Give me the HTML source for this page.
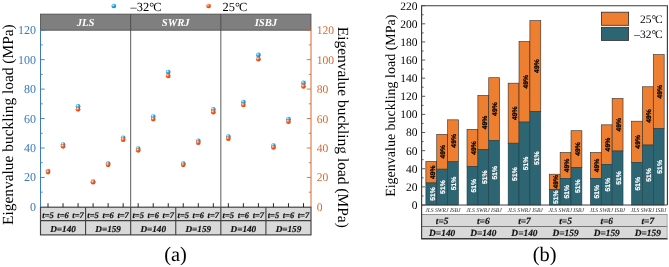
<!DOCTYPE html>
<html><head><meta charset="utf-8"><title>Eigenvalue buckling load</title>
<style>
html,body{margin:0;padding:0;background:#fff;}
body{width:669px;height:267px;overflow:hidden;font-family:"Liberation Serif",serif;}
svg{display:block;text-rendering:geometricPrecision;will-change:transform;}
</style></head><body>
<svg width="669" height="267" viewBox="0 0 669 267">
<rect x="0" y="0" width="669" height="267" fill="#ffffff"/>
<defs><radialGradient id="gb" cx="0.36" cy="0.32" r="0.7"><stop offset="0" stop-color="#ffffff"/><stop offset="0.22" stop-color="#7fd0f5"/><stop offset="0.55" stop-color="#1f9de0"/><stop offset="1" stop-color="#1a7fc4"/></radialGradient><radialGradient id="go" cx="0.36" cy="0.32" r="0.7"><stop offset="0" stop-color="#ffffff"/><stop offset="0.22" stop-color="#ff9a66"/><stop offset="0.55" stop-color="#f2541b"/><stop offset="1" stop-color="#d8430f"/></radialGradient></defs>
<rect x="40.5" y="14.1" width="270.5" height="16.1" fill="#7f7f7f" stroke="#4a4a4a" stroke-width="0.8"/>
<line x1="130.67" y1="14.1" x2="130.67" y2="206.9" stroke="#4a4a4a" stroke-width="0.9"/>
<line x1="220.83" y1="14.1" x2="220.83" y2="206.9" stroke="#4a4a4a" stroke-width="0.9"/>
<text x="85.58" y="25.9" font-family='"Liberation Serif", serif' font-size="10.7" font-weight="bold" font-style="italic" fill="#fff" text-anchor="middle">JLS</text>
<text x="175.75" y="25.9" font-family='"Liberation Serif", serif' font-size="10.7" font-weight="bold" font-style="italic" fill="#fff" text-anchor="middle">SWRJ</text>
<text x="265.92" y="25.9" font-family='"Liberation Serif", serif' font-size="10.7" font-weight="bold" font-style="italic" fill="#fff" text-anchor="middle">ISBJ</text>
<line x1="40.5" y1="30.2" x2="40.5" y2="206.9" stroke="#3b7abb" stroke-width="1"/>
<line x1="311.0" y1="30.2" x2="311.0" y2="206.9" stroke="#d8692c" stroke-width="1"/>
<text x="36" y="210.90" font-family='"Liberation Serif", serif' font-size="12" fill="#3b7abb" text-anchor="end">0</text>
<text x="316.7" y="210.90" font-family='"Liberation Serif", serif' font-size="11.6" fill="#d8692c" text-anchor="start">0</text>
<line x1="40.5" y1="192.18" x2="42.7" y2="192.18" stroke="#3b7abb" stroke-width="0.9"/>
<line x1="311.0" y1="192.18" x2="308.8" y2="192.18" stroke="#d8692c" stroke-width="0.9"/>
<line x1="40.5" y1="177.45" x2="44.7" y2="177.45" stroke="#3b7abb" stroke-width="0.9"/>
<line x1="311.0" y1="177.45" x2="306.8" y2="177.45" stroke="#d8692c" stroke-width="0.9"/>
<text x="36" y="181.45" font-family='"Liberation Serif", serif' font-size="12" fill="#3b7abb" text-anchor="end">20</text>
<text x="316.7" y="181.45" font-family='"Liberation Serif", serif' font-size="11.6" fill="#d8692c" text-anchor="start">20</text>
<line x1="40.5" y1="162.72" x2="42.7" y2="162.72" stroke="#3b7abb" stroke-width="0.9"/>
<line x1="311.0" y1="162.72" x2="308.8" y2="162.72" stroke="#d8692c" stroke-width="0.9"/>
<line x1="40.5" y1="148.00" x2="44.7" y2="148.00" stroke="#3b7abb" stroke-width="0.9"/>
<line x1="311.0" y1="148.00" x2="306.8" y2="148.00" stroke="#d8692c" stroke-width="0.9"/>
<text x="36" y="152.00" font-family='"Liberation Serif", serif' font-size="12" fill="#3b7abb" text-anchor="end">40</text>
<text x="316.7" y="152.00" font-family='"Liberation Serif", serif' font-size="11.6" fill="#d8692c" text-anchor="start">40</text>
<line x1="40.5" y1="133.28" x2="42.7" y2="133.28" stroke="#3b7abb" stroke-width="0.9"/>
<line x1="311.0" y1="133.28" x2="308.8" y2="133.28" stroke="#d8692c" stroke-width="0.9"/>
<line x1="40.5" y1="118.55" x2="44.7" y2="118.55" stroke="#3b7abb" stroke-width="0.9"/>
<line x1="311.0" y1="118.55" x2="306.8" y2="118.55" stroke="#d8692c" stroke-width="0.9"/>
<text x="36" y="122.55" font-family='"Liberation Serif", serif' font-size="12" fill="#3b7abb" text-anchor="end">60</text>
<text x="316.7" y="122.55" font-family='"Liberation Serif", serif' font-size="11.6" fill="#d8692c" text-anchor="start">60</text>
<line x1="40.5" y1="103.82" x2="42.7" y2="103.82" stroke="#3b7abb" stroke-width="0.9"/>
<line x1="311.0" y1="103.82" x2="308.8" y2="103.82" stroke="#d8692c" stroke-width="0.9"/>
<line x1="40.5" y1="89.10" x2="44.7" y2="89.10" stroke="#3b7abb" stroke-width="0.9"/>
<line x1="311.0" y1="89.10" x2="306.8" y2="89.10" stroke="#d8692c" stroke-width="0.9"/>
<text x="36" y="93.10" font-family='"Liberation Serif", serif' font-size="12" fill="#3b7abb" text-anchor="end">80</text>
<text x="316.7" y="93.10" font-family='"Liberation Serif", serif' font-size="11.6" fill="#d8692c" text-anchor="start">80</text>
<line x1="40.5" y1="74.38" x2="42.7" y2="74.38" stroke="#3b7abb" stroke-width="0.9"/>
<line x1="311.0" y1="74.38" x2="308.8" y2="74.38" stroke="#d8692c" stroke-width="0.9"/>
<line x1="40.5" y1="59.65" x2="44.7" y2="59.65" stroke="#3b7abb" stroke-width="0.9"/>
<line x1="311.0" y1="59.65" x2="306.8" y2="59.65" stroke="#d8692c" stroke-width="0.9"/>
<text x="36" y="63.65" font-family='"Liberation Serif", serif' font-size="12" fill="#3b7abb" text-anchor="end">100</text>
<text x="316.7" y="63.65" font-family='"Liberation Serif", serif' font-size="11.6" fill="#d8692c" text-anchor="start">100</text>
<line x1="40.5" y1="44.92" x2="42.7" y2="44.92" stroke="#3b7abb" stroke-width="0.9"/>
<line x1="311.0" y1="44.92" x2="308.8" y2="44.92" stroke="#d8692c" stroke-width="0.9"/>
<line x1="40.5" y1="30.20" x2="44.7" y2="30.20" stroke="#3b7abb" stroke-width="0.9"/>
<line x1="311.0" y1="30.20" x2="306.8" y2="30.20" stroke="#d8692c" stroke-width="0.9"/>
<text x="36" y="34.20" font-family='"Liberation Serif", serif' font-size="12" fill="#3b7abb" text-anchor="end">120</text>
<text x="316.7" y="34.20" font-family='"Liberation Serif", serif' font-size="11.6" fill="#d8692c" text-anchor="start">120</text>
<text transform="translate(12.9,124.6) rotate(-90)" font-family='"Liberation Serif", serif' font-size="15.42" fill="#000" text-anchor="middle">Eigenvalue buckling load (MPa)</text>
<text transform="translate(337.7,127.25) rotate(90)" font-family='"Liberation Serif", serif' font-size="15.45" fill="#000" text-anchor="middle">Eigenvalue buckling load (MPa)</text>
<rect x="40.5" y="207.2" width="270.5" height="27.700000000000017" fill="#d9d9d9" stroke="#3f3f3f" stroke-width="1.15"/>
<line x1="40.5" y1="220.6" x2="311.0" y2="220.6" stroke="#3f3f3f" stroke-width="1.1"/>
<line x1="85.58" y1="207.2" x2="85.58" y2="234.9" stroke="#3f3f3f" stroke-width="1.1"/>
<line x1="130.67" y1="207.2" x2="130.67" y2="234.9" stroke="#3f3f3f" stroke-width="1.1"/>
<line x1="175.75" y1="207.2" x2="175.75" y2="234.9" stroke="#3f3f3f" stroke-width="1.1"/>
<line x1="220.83" y1="207.2" x2="220.83" y2="234.9" stroke="#3f3f3f" stroke-width="1.1"/>
<line x1="265.92" y1="207.2" x2="265.92" y2="234.9" stroke="#3f3f3f" stroke-width="1.1"/>
<text x="63.04" y="231.8" font-family='"Liberation Serif", serif' font-size="9.2" font-weight="bold" font-style="italic" fill="#111" stroke="#111" stroke-width="0.18" text-anchor="middle">D=140</text>
<line x1="48.01" y1="203.2" x2="48.01" y2="207.2" stroke="#262626" stroke-width="1.0"/>
<text x="48.01" y="217.8" font-family='"Liberation Serif", serif' font-size="8.5" font-weight="bold" font-style="italic" fill="#111" stroke="#111" stroke-width="0.18" text-anchor="middle">t=5</text>
<line x1="63.04" y1="203.2" x2="63.04" y2="207.2" stroke="#262626" stroke-width="1.0"/>
<text x="63.04" y="217.8" font-family='"Liberation Serif", serif' font-size="8.5" font-weight="bold" font-style="italic" fill="#111" stroke="#111" stroke-width="0.18" text-anchor="middle">t=6</text>
<line x1="78.07" y1="203.2" x2="78.07" y2="207.2" stroke="#262626" stroke-width="1.0"/>
<text x="78.07" y="217.8" font-family='"Liberation Serif", serif' font-size="8.5" font-weight="bold" font-style="italic" fill="#111" stroke="#111" stroke-width="0.18" text-anchor="middle">t=7</text>
<text x="108.12" y="231.8" font-family='"Liberation Serif", serif' font-size="9.2" font-weight="bold" font-style="italic" fill="#111" stroke="#111" stroke-width="0.18" text-anchor="middle">D=159</text>
<line x1="93.10" y1="203.2" x2="93.10" y2="207.2" stroke="#262626" stroke-width="1.0"/>
<text x="93.10" y="217.8" font-family='"Liberation Serif", serif' font-size="8.5" font-weight="bold" font-style="italic" fill="#111" stroke="#111" stroke-width="0.18" text-anchor="middle">t=5</text>
<line x1="108.13" y1="203.2" x2="108.13" y2="207.2" stroke="#262626" stroke-width="1.0"/>
<text x="108.13" y="217.8" font-family='"Liberation Serif", serif' font-size="8.5" font-weight="bold" font-style="italic" fill="#111" stroke="#111" stroke-width="0.18" text-anchor="middle">t=6</text>
<line x1="123.15" y1="203.2" x2="123.15" y2="207.2" stroke="#262626" stroke-width="1.0"/>
<text x="123.15" y="217.8" font-family='"Liberation Serif", serif' font-size="8.5" font-weight="bold" font-style="italic" fill="#111" stroke="#111" stroke-width="0.18" text-anchor="middle">t=7</text>
<text x="153.21" y="231.8" font-family='"Liberation Serif", serif' font-size="9.2" font-weight="bold" font-style="italic" fill="#111" stroke="#111" stroke-width="0.18" text-anchor="middle">D=140</text>
<line x1="138.18" y1="203.2" x2="138.18" y2="207.2" stroke="#262626" stroke-width="1.0"/>
<text x="138.18" y="217.8" font-family='"Liberation Serif", serif' font-size="8.5" font-weight="bold" font-style="italic" fill="#111" stroke="#111" stroke-width="0.18" text-anchor="middle">t=5</text>
<line x1="153.21" y1="203.2" x2="153.21" y2="207.2" stroke="#262626" stroke-width="1.0"/>
<text x="153.21" y="217.8" font-family='"Liberation Serif", serif' font-size="8.5" font-weight="bold" font-style="italic" fill="#111" stroke="#111" stroke-width="0.18" text-anchor="middle">t=6</text>
<line x1="168.24" y1="203.2" x2="168.24" y2="207.2" stroke="#262626" stroke-width="1.0"/>
<text x="168.24" y="217.8" font-family='"Liberation Serif", serif' font-size="8.5" font-weight="bold" font-style="italic" fill="#111" stroke="#111" stroke-width="0.18" text-anchor="middle">t=7</text>
<text x="198.29" y="231.8" font-family='"Liberation Serif", serif' font-size="9.2" font-weight="bold" font-style="italic" fill="#111" stroke="#111" stroke-width="0.18" text-anchor="middle">D=159</text>
<line x1="183.26" y1="203.2" x2="183.26" y2="207.2" stroke="#262626" stroke-width="1.0"/>
<text x="183.26" y="217.8" font-family='"Liberation Serif", serif' font-size="8.5" font-weight="bold" font-style="italic" fill="#111" stroke="#111" stroke-width="0.18" text-anchor="middle">t=5</text>
<line x1="198.29" y1="203.2" x2="198.29" y2="207.2" stroke="#262626" stroke-width="1.0"/>
<text x="198.29" y="217.8" font-family='"Liberation Serif", serif' font-size="8.5" font-weight="bold" font-style="italic" fill="#111" stroke="#111" stroke-width="0.18" text-anchor="middle">t=6</text>
<line x1="213.32" y1="203.2" x2="213.32" y2="207.2" stroke="#262626" stroke-width="1.0"/>
<text x="213.32" y="217.8" font-family='"Liberation Serif", serif' font-size="8.5" font-weight="bold" font-style="italic" fill="#111" stroke="#111" stroke-width="0.18" text-anchor="middle">t=7</text>
<text x="243.38" y="231.8" font-family='"Liberation Serif", serif' font-size="9.2" font-weight="bold" font-style="italic" fill="#111" stroke="#111" stroke-width="0.18" text-anchor="middle">D=140</text>
<line x1="228.35" y1="203.2" x2="228.35" y2="207.2" stroke="#262626" stroke-width="1.0"/>
<text x="228.35" y="217.8" font-family='"Liberation Serif", serif' font-size="8.5" font-weight="bold" font-style="italic" fill="#111" stroke="#111" stroke-width="0.18" text-anchor="middle">t=5</text>
<line x1="243.38" y1="203.2" x2="243.38" y2="207.2" stroke="#262626" stroke-width="1.0"/>
<text x="243.38" y="217.8" font-family='"Liberation Serif", serif' font-size="8.5" font-weight="bold" font-style="italic" fill="#111" stroke="#111" stroke-width="0.18" text-anchor="middle">t=6</text>
<line x1="258.40" y1="203.2" x2="258.40" y2="207.2" stroke="#262626" stroke-width="1.0"/>
<text x="258.40" y="217.8" font-family='"Liberation Serif", serif' font-size="8.5" font-weight="bold" font-style="italic" fill="#111" stroke="#111" stroke-width="0.18" text-anchor="middle">t=7</text>
<text x="288.46" y="231.8" font-family='"Liberation Serif", serif' font-size="9.2" font-weight="bold" font-style="italic" fill="#111" stroke="#111" stroke-width="0.18" text-anchor="middle">D=159</text>
<line x1="273.43" y1="203.2" x2="273.43" y2="207.2" stroke="#262626" stroke-width="1.0"/>
<text x="273.43" y="217.8" font-family='"Liberation Serif", serif' font-size="8.5" font-weight="bold" font-style="italic" fill="#111" stroke="#111" stroke-width="0.18" text-anchor="middle">t=5</text>
<line x1="288.46" y1="203.2" x2="288.46" y2="207.2" stroke="#262626" stroke-width="1.0"/>
<text x="288.46" y="217.8" font-family='"Liberation Serif", serif' font-size="8.5" font-weight="bold" font-style="italic" fill="#111" stroke="#111" stroke-width="0.18" text-anchor="middle">t=6</text>
<line x1="303.49" y1="203.2" x2="303.49" y2="207.2" stroke="#262626" stroke-width="1.0"/>
<text x="303.49" y="217.8" font-family='"Liberation Serif", serif' font-size="8.5" font-weight="bold" font-style="italic" fill="#111" stroke="#111" stroke-width="0.18" text-anchor="middle">t=7</text>
<circle cx="48.01" cy="171.05" r="2.35" fill="url(#gb)"/>
<circle cx="48.01" cy="172.07" r="2.35" fill="url(#go)"/>
<circle cx="63.04" cy="144.54" r="2.35" fill="url(#gb)"/>
<circle cx="63.04" cy="146.30" r="2.35" fill="url(#go)"/>
<circle cx="78.07" cy="106.46" r="2.35" fill="url(#gb)"/>
<circle cx="78.07" cy="109.29" r="2.35" fill="url(#go)"/>
<circle cx="93.10" cy="181.51" r="2.35" fill="url(#gb)"/>
<circle cx="93.10" cy="182.23" r="2.35" fill="url(#go)"/>
<circle cx="108.13" cy="163.59" r="2.35" fill="url(#gb)"/>
<circle cx="108.13" cy="164.81" r="2.35" fill="url(#go)"/>
<circle cx="123.15" cy="137.82" r="2.35" fill="url(#gb)"/>
<circle cx="123.15" cy="139.77" r="2.35" fill="url(#go)"/>
<circle cx="138.18" cy="148.65" r="2.35" fill="url(#gb)"/>
<circle cx="138.18" cy="150.29" r="2.35" fill="url(#go)"/>
<circle cx="153.21" cy="116.54" r="2.35" fill="url(#gb)"/>
<circle cx="153.21" cy="119.09" r="2.35" fill="url(#go)"/>
<circle cx="168.24" cy="72.11" r="2.35" fill="url(#gb)"/>
<circle cx="168.24" cy="75.91" r="2.35" fill="url(#go)"/>
<circle cx="183.26" cy="163.59" r="2.35" fill="url(#gb)"/>
<circle cx="183.26" cy="164.81" r="2.35" fill="url(#go)"/>
<circle cx="198.29" cy="140.81" r="2.35" fill="url(#gb)"/>
<circle cx="198.29" cy="142.67" r="2.35" fill="url(#go)"/>
<circle cx="213.32" cy="109.45" r="2.35" fill="url(#gb)"/>
<circle cx="213.32" cy="112.19" r="2.35" fill="url(#go)"/>
<circle cx="228.35" cy="136.70" r="2.35" fill="url(#gb)"/>
<circle cx="228.35" cy="138.68" r="2.35" fill="url(#go)"/>
<circle cx="243.38" cy="101.98" r="2.35" fill="url(#gb)"/>
<circle cx="243.38" cy="104.94" r="2.35" fill="url(#go)"/>
<circle cx="258.40" cy="54.93" r="2.35" fill="url(#gb)"/>
<circle cx="258.40" cy="59.21" r="2.35" fill="url(#go)"/>
<circle cx="273.43" cy="145.66" r="2.35" fill="url(#gb)"/>
<circle cx="273.43" cy="147.39" r="2.35" fill="url(#go)"/>
<circle cx="288.46" cy="119.15" r="2.35" fill="url(#gb)"/>
<circle cx="288.46" cy="121.63" r="2.35" fill="url(#go)"/>
<circle cx="303.49" cy="82.94" r="2.35" fill="url(#gb)"/>
<circle cx="303.49" cy="86.43" r="2.35" fill="url(#go)"/>
<circle cx="113.8" cy="6" r="2.35" fill="url(#gb)"/>
<text x="130.6" y="10.5" font-family='"Liberation Serif", serif' font-size="12.4" fill="#000">–32°<tspan dx="-1.0">C</tspan></text>
<circle cx="208.6" cy="6" r="2.35" fill="url(#go)"/>
<text x="222.6" y="10.5" font-family='"Liberation Serif", serif' font-size="12.4" fill="#000">25°<tspan dx="-1.0">C</tspan></text>
<text x="175.5" y="260.6" font-family='"Liberation Serif", serif' font-size="20.4" fill="#000" text-anchor="middle">(a)</text>
<rect x="421.6" y="214.5" width="245.79999999999995" height="24.0" fill="#d9d9d9"/>
<line x1="421.6" y1="214.5" x2="667.4" y2="214.5" stroke="#8a8a8a" stroke-width="0.9"/>
<line x1="421.6" y1="226.5" x2="667.4" y2="226.5" stroke="#6a6a6a" stroke-width="0.9"/>
<line x1="421.1" y1="238.7" x2="667.6" y2="238.7" stroke="#3a3a3a" stroke-width="1.4"/>
<rect x="425.88" y="161.52" width="10.88" height="21.43" fill="#ee7f31" stroke="#2b2b2b" stroke-width="0.6"/>
<rect x="425.88" y="182.95" width="10.88" height="22.05" fill="#2e6573" stroke="#1f3a42" stroke-width="0.55"/>
<text transform="translate(434.56,172.23) rotate(-90)" font-family='"Liberation Sans", sans-serif' font-size="6.8" font-weight="bold" fill="#000" stroke="#000" stroke-width="0.25" text-anchor="middle">49%</text>
<text transform="translate(434.56,193.97) rotate(-90)" font-family='"Liberation Sans", sans-serif' font-size="6.8" font-weight="bold" fill="#fff" stroke="#fff" stroke-width="0.2" text-anchor="middle">51%</text>
<rect x="436.75" y="134.34" width="10.88" height="34.83" fill="#ee7f31" stroke="#2b2b2b" stroke-width="0.6"/>
<rect x="436.75" y="169.16" width="10.88" height="35.84" fill="#2e6573" stroke="#1f3a42" stroke-width="0.55"/>
<text transform="translate(445.44,151.75) rotate(-90)" font-family='"Liberation Sans", sans-serif' font-size="6.8" font-weight="bold" fill="#000" stroke="#000" stroke-width="0.25" text-anchor="middle">49%</text>
<text transform="translate(445.44,187.08) rotate(-90)" font-family='"Liberation Sans", sans-serif' font-size="6.8" font-weight="bold" fill="#fff" stroke="#fff" stroke-width="0.2" text-anchor="middle">51%</text>
<rect x="447.63" y="119.84" width="10.88" height="41.97" fill="#ee7f31" stroke="#2b2b2b" stroke-width="0.6"/>
<rect x="447.63" y="161.81" width="10.88" height="43.19" fill="#2e6573" stroke="#1f3a42" stroke-width="0.55"/>
<text transform="translate(456.32,140.83) rotate(-90)" font-family='"Liberation Sans", sans-serif' font-size="6.8" font-weight="bold" fill="#000" stroke="#000" stroke-width="0.25" text-anchor="middle">49%</text>
<text transform="translate(456.32,183.41) rotate(-90)" font-family='"Liberation Sans", sans-serif' font-size="6.8" font-weight="bold" fill="#fff" stroke="#fff" stroke-width="0.2" text-anchor="middle">51%</text>
<text x="442.89" y="211.6" font-family='"Liberation Serif", serif' font-size="5.65" font-style="italic" fill="#2a2a2a" text-anchor="middle">JLS SWRJ ISBJ</text>
<text x="442.19" y="224.2" font-family='"Liberation Serif", serif' font-size="9.4" font-weight="bold" font-style="italic" fill="#111" stroke="#111" stroke-width="0.18" text-anchor="middle">t=5</text>
<text x="442.19" y="235.8" font-family='"Liberation Serif", serif' font-size="9.4" font-weight="bold" font-style="italic" fill="#111" stroke="#111" stroke-width="0.18" text-anchor="middle">D=140</text>
<rect x="467.00" y="129.36" width="10.88" height="37.28" fill="#ee7f31" stroke="#2b2b2b" stroke-width="0.6"/>
<rect x="467.00" y="166.64" width="10.88" height="38.36" fill="#2e6573" stroke="#1f3a42" stroke-width="0.55"/>
<text transform="translate(475.69,148.00) rotate(-90)" font-family='"Liberation Sans", sans-serif' font-size="6.8" font-weight="bold" fill="#000" stroke="#000" stroke-width="0.25" text-anchor="middle">49%</text>
<text transform="translate(475.69,185.82) rotate(-90)" font-family='"Liberation Sans", sans-serif' font-size="6.8" font-weight="bold" fill="#fff" stroke="#fff" stroke-width="0.2" text-anchor="middle">51%</text>
<rect x="477.88" y="95.38" width="10.88" height="54.02" fill="#ee7f31" stroke="#2b2b2b" stroke-width="0.6"/>
<rect x="477.88" y="149.41" width="10.88" height="55.59" fill="#2e6573" stroke="#1f3a42" stroke-width="0.55"/>
<text transform="translate(486.57,122.40) rotate(-90)" font-family='"Liberation Sans", sans-serif' font-size="6.8" font-weight="bold" fill="#000" stroke="#000" stroke-width="0.25" text-anchor="middle">49%</text>
<text transform="translate(486.57,177.20) rotate(-90)" font-family='"Liberation Sans", sans-serif' font-size="6.8" font-weight="bold" fill="#fff" stroke="#fff" stroke-width="0.2" text-anchor="middle">51%</text>
<rect x="488.76" y="77.72" width="10.88" height="62.73" fill="#ee7f31" stroke="#2b2b2b" stroke-width="0.6"/>
<rect x="488.76" y="140.45" width="10.88" height="64.55" fill="#2e6573" stroke="#1f3a42" stroke-width="0.55"/>
<text transform="translate(497.45,109.09) rotate(-90)" font-family='"Liberation Sans", sans-serif' font-size="6.8" font-weight="bold" fill="#000" stroke="#000" stroke-width="0.25" text-anchor="middle">49%</text>
<text transform="translate(497.45,172.73) rotate(-90)" font-family='"Liberation Sans", sans-serif' font-size="6.8" font-weight="bold" fill="#fff" stroke="#fff" stroke-width="0.2" text-anchor="middle">51%</text>
<text x="484.02" y="211.6" font-family='"Liberation Serif", serif' font-size="5.65" font-style="italic" fill="#2a2a2a" text-anchor="middle">JLS SWRJ ISBJ</text>
<text x="483.32" y="224.2" font-family='"Liberation Serif", serif' font-size="9.4" font-weight="bold" font-style="italic" fill="#111" stroke="#111" stroke-width="0.18" text-anchor="middle">t=6</text>
<text x="483.32" y="235.8" font-family='"Liberation Serif", serif' font-size="9.4" font-weight="bold" font-style="italic" fill="#111" stroke="#111" stroke-width="0.18" text-anchor="middle">D=140</text>
<rect x="508.14" y="83.16" width="10.88" height="60.05" fill="#ee7f31" stroke="#2b2b2b" stroke-width="0.6"/>
<rect x="508.14" y="143.21" width="10.88" height="61.79" fill="#2e6573" stroke="#1f3a42" stroke-width="0.55"/>
<text transform="translate(516.83,113.18) rotate(-90)" font-family='"Liberation Sans", sans-serif' font-size="6.8" font-weight="bold" fill="#000" stroke="#000" stroke-width="0.25" text-anchor="middle">49%</text>
<text transform="translate(516.83,174.10) rotate(-90)" font-family='"Liberation Sans", sans-serif' font-size="6.8" font-weight="bold" fill="#fff" stroke="#fff" stroke-width="0.2" text-anchor="middle">51%</text>
<rect x="519.02" y="41.48" width="10.88" height="80.59" fill="#ee7f31" stroke="#2b2b2b" stroke-width="0.6"/>
<rect x="519.02" y="122.07" width="10.88" height="82.93" fill="#2e6573" stroke="#1f3a42" stroke-width="0.55"/>
<text transform="translate(527.71,81.78) rotate(-90)" font-family='"Liberation Sans", sans-serif' font-size="6.8" font-weight="bold" fill="#000" stroke="#000" stroke-width="0.25" text-anchor="middle">49%</text>
<text transform="translate(527.71,163.54) rotate(-90)" font-family='"Liberation Sans", sans-serif' font-size="6.8" font-weight="bold" fill="#fff" stroke="#fff" stroke-width="0.2" text-anchor="middle">51%</text>
<rect x="529.90" y="20.65" width="10.88" height="90.86" fill="#ee7f31" stroke="#2b2b2b" stroke-width="0.6"/>
<rect x="529.90" y="111.51" width="10.88" height="93.49" fill="#2e6573" stroke="#1f3a42" stroke-width="0.55"/>
<text transform="translate(538.59,66.08) rotate(-90)" font-family='"Liberation Sans", sans-serif' font-size="6.8" font-weight="bold" fill="#000" stroke="#000" stroke-width="0.25" text-anchor="middle">49%</text>
<text transform="translate(538.59,158.25) rotate(-90)" font-family='"Liberation Sans", sans-serif' font-size="6.8" font-weight="bold" fill="#fff" stroke="#fff" stroke-width="0.2" text-anchor="middle">51%</text>
<text x="525.16" y="211.6" font-family='"Liberation Serif", serif' font-size="5.65" font-style="italic" fill="#2a2a2a" text-anchor="middle">JLS SWRJ ISBJ</text>
<text x="524.46" y="224.2" font-family='"Liberation Serif", serif' font-size="9.4" font-weight="bold" font-style="italic" fill="#111" stroke="#111" stroke-width="0.18" text-anchor="middle">t=7</text>
<text x="524.46" y="235.8" font-family='"Liberation Serif", serif' font-size="9.4" font-weight="bold" font-style="italic" fill="#111" stroke="#111" stroke-width="0.18" text-anchor="middle">D=140</text>
<rect x="549.26" y="174.20" width="10.88" height="15.18" fill="#ee7f31" stroke="#2b2b2b" stroke-width="0.6"/>
<rect x="549.26" y="189.38" width="10.88" height="15.62" fill="#2e6573" stroke="#1f3a42" stroke-width="0.55"/>
<text transform="translate(557.96,181.79) rotate(-90)" font-family='"Liberation Sans", sans-serif' font-size="6.8" font-weight="bold" fill="#000" stroke="#000" stroke-width="0.25" text-anchor="middle">49%</text>
<text transform="translate(557.96,197.19) rotate(-90)" font-family='"Liberation Sans", sans-serif' font-size="6.8" font-weight="bold" fill="#fff" stroke="#fff" stroke-width="0.2" text-anchor="middle">51%</text>
<rect x="560.14" y="152.46" width="10.88" height="25.90" fill="#ee7f31" stroke="#2b2b2b" stroke-width="0.6"/>
<rect x="560.14" y="178.35" width="10.88" height="26.65" fill="#2e6573" stroke="#1f3a42" stroke-width="0.55"/>
<text transform="translate(568.84,165.41) rotate(-90)" font-family='"Liberation Sans", sans-serif' font-size="6.8" font-weight="bold" fill="#000" stroke="#000" stroke-width="0.25" text-anchor="middle">49%</text>
<text transform="translate(568.84,191.68) rotate(-90)" font-family='"Liberation Sans", sans-serif' font-size="6.8" font-weight="bold" fill="#fff" stroke="#fff" stroke-width="0.2" text-anchor="middle">51%</text>
<rect x="571.02" y="130.72" width="10.88" height="36.61" fill="#ee7f31" stroke="#2b2b2b" stroke-width="0.6"/>
<rect x="571.02" y="167.33" width="10.88" height="37.67" fill="#2e6573" stroke="#1f3a42" stroke-width="0.55"/>
<text transform="translate(579.72,149.02) rotate(-90)" font-family='"Liberation Sans", sans-serif' font-size="6.8" font-weight="bold" fill="#000" stroke="#000" stroke-width="0.25" text-anchor="middle">49%</text>
<text transform="translate(579.72,186.16) rotate(-90)" font-family='"Liberation Sans", sans-serif' font-size="6.8" font-weight="bold" fill="#fff" stroke="#fff" stroke-width="0.2" text-anchor="middle">51%</text>
<text x="566.29" y="211.6" font-family='"Liberation Serif", serif' font-size="5.65" font-style="italic" fill="#2a2a2a" text-anchor="middle">JLS SWRJ ISBJ</text>
<text x="565.59" y="224.2" font-family='"Liberation Serif", serif' font-size="9.4" font-weight="bold" font-style="italic" fill="#111" stroke="#111" stroke-width="0.18" text-anchor="middle">t=5</text>
<text x="565.59" y="235.8" font-family='"Liberation Serif", serif' font-size="9.4" font-weight="bold" font-style="italic" fill="#111" stroke="#111" stroke-width="0.18" text-anchor="middle">D=159</text>
<rect x="590.39" y="152.46" width="10.88" height="25.90" fill="#ee7f31" stroke="#2b2b2b" stroke-width="0.6"/>
<rect x="590.39" y="178.35" width="10.88" height="26.65" fill="#2e6573" stroke="#1f3a42" stroke-width="0.55"/>
<text transform="translate(599.09,165.41) rotate(-90)" font-family='"Liberation Sans", sans-serif' font-size="6.8" font-weight="bold" fill="#000" stroke="#000" stroke-width="0.25" text-anchor="middle">49%</text>
<text transform="translate(599.09,191.68) rotate(-90)" font-family='"Liberation Sans", sans-serif' font-size="6.8" font-weight="bold" fill="#fff" stroke="#fff" stroke-width="0.2" text-anchor="middle">51%</text>
<rect x="601.27" y="124.83" width="10.88" height="39.51" fill="#ee7f31" stroke="#2b2b2b" stroke-width="0.6"/>
<rect x="601.27" y="164.34" width="10.88" height="40.66" fill="#2e6573" stroke="#1f3a42" stroke-width="0.55"/>
<text transform="translate(609.97,144.58) rotate(-90)" font-family='"Liberation Sans", sans-serif' font-size="6.8" font-weight="bold" fill="#000" stroke="#000" stroke-width="0.25" text-anchor="middle">49%</text>
<text transform="translate(609.97,184.67) rotate(-90)" font-family='"Liberation Sans", sans-serif' font-size="6.8" font-weight="bold" fill="#fff" stroke="#fff" stroke-width="0.2" text-anchor="middle">51%</text>
<rect x="612.15" y="98.56" width="10.88" height="52.46" fill="#ee7f31" stroke="#2b2b2b" stroke-width="0.6"/>
<rect x="612.15" y="151.02" width="10.88" height="53.98" fill="#2e6573" stroke="#1f3a42" stroke-width="0.55"/>
<text transform="translate(620.85,124.79) rotate(-90)" font-family='"Liberation Sans", sans-serif' font-size="6.8" font-weight="bold" fill="#000" stroke="#000" stroke-width="0.25" text-anchor="middle">49%</text>
<text transform="translate(620.85,178.01) rotate(-90)" font-family='"Liberation Sans", sans-serif' font-size="6.8" font-weight="bold" fill="#fff" stroke="#fff" stroke-width="0.2" text-anchor="middle">51%</text>
<text x="607.42" y="211.6" font-family='"Liberation Serif", serif' font-size="5.65" font-style="italic" fill="#2a2a2a" text-anchor="middle">JLS SWRJ ISBJ</text>
<text x="606.72" y="224.2" font-family='"Liberation Serif", serif' font-size="9.4" font-weight="bold" font-style="italic" fill="#111" stroke="#111" stroke-width="0.18" text-anchor="middle">t=6</text>
<text x="606.72" y="235.8" font-family='"Liberation Serif", serif' font-size="9.4" font-weight="bold" font-style="italic" fill="#111" stroke="#111" stroke-width="0.18" text-anchor="middle">D=159</text>
<rect x="631.52" y="121.20" width="10.88" height="41.30" fill="#ee7f31" stroke="#2b2b2b" stroke-width="0.6"/>
<rect x="631.52" y="162.50" width="10.88" height="42.50" fill="#2e6573" stroke="#1f3a42" stroke-width="0.55"/>
<text transform="translate(640.22,141.85) rotate(-90)" font-family='"Liberation Sans", sans-serif' font-size="6.8" font-weight="bold" fill="#000" stroke="#000" stroke-width="0.25" text-anchor="middle">49%</text>
<text transform="translate(640.22,183.75) rotate(-90)" font-family='"Liberation Sans", sans-serif' font-size="6.8" font-weight="bold" fill="#fff" stroke="#fff" stroke-width="0.2" text-anchor="middle">51%</text>
<rect x="642.40" y="86.78" width="10.88" height="58.27" fill="#ee7f31" stroke="#2b2b2b" stroke-width="0.6"/>
<rect x="642.40" y="145.04" width="10.88" height="59.96" fill="#2e6573" stroke="#1f3a42" stroke-width="0.55"/>
<text transform="translate(651.10,115.91) rotate(-90)" font-family='"Liberation Sans", sans-serif' font-size="6.8" font-weight="bold" fill="#000" stroke="#000" stroke-width="0.25" text-anchor="middle">49%</text>
<text transform="translate(651.10,175.02) rotate(-90)" font-family='"Liberation Sans", sans-serif' font-size="6.8" font-weight="bold" fill="#fff" stroke="#fff" stroke-width="0.2" text-anchor="middle">51%</text>
<rect x="653.28" y="54.62" width="10.88" height="74.12" fill="#ee7f31" stroke="#2b2b2b" stroke-width="0.6"/>
<rect x="653.28" y="128.73" width="10.88" height="76.27" fill="#2e6573" stroke="#1f3a42" stroke-width="0.55"/>
<text transform="translate(661.98,91.68) rotate(-90)" font-family='"Liberation Sans", sans-serif' font-size="6.8" font-weight="bold" fill="#000" stroke="#000" stroke-width="0.25" text-anchor="middle">49%</text>
<text transform="translate(661.98,166.87) rotate(-90)" font-family='"Liberation Sans", sans-serif' font-size="6.8" font-weight="bold" fill="#fff" stroke="#fff" stroke-width="0.2" text-anchor="middle">51%</text>
<text x="648.55" y="211.6" font-family='"Liberation Serif", serif' font-size="5.65" font-style="italic" fill="#2a2a2a" text-anchor="middle">JLS SWRJ ISBJ</text>
<text x="647.85" y="224.2" font-family='"Liberation Serif", serif' font-size="9.4" font-weight="bold" font-style="italic" fill="#111" stroke="#111" stroke-width="0.18" text-anchor="middle">t=7</text>
<text x="647.85" y="235.8" font-family='"Liberation Serif", serif' font-size="9.4" font-weight="bold" font-style="italic" fill="#111" stroke="#111" stroke-width="0.18" text-anchor="middle">D=159</text>
<polyline points="421.6,239.1 421.6,5.7 667.4,5.7 667.4,205.0" fill="none" stroke="#3c3c3c" stroke-width="1.15"/>
<line x1="667.1" y1="214.5" x2="667.1" y2="238.5" stroke="#a8a8a8" stroke-width="0.9"/>
<line x1="421.6" y1="205.0" x2="667.4" y2="205.0" stroke="#3c3c3c" stroke-width="1.1"/>
<line x1="421.6" y1="205.00" x2="425.20000000000005" y2="205.00" stroke="#4a4a4a" stroke-width="0.9"/>
<text x="417.4" y="208.95" font-family='"Liberation Serif", serif' font-size="11.5" fill="#000" text-anchor="end">0</text>
<line x1="421.6" y1="195.94" x2="423.6" y2="195.94" stroke="#4a4a4a" stroke-width="0.9"/>
<line x1="421.6" y1="186.88" x2="425.20000000000005" y2="186.88" stroke="#4a4a4a" stroke-width="0.9"/>
<text x="417.4" y="190.83" font-family='"Liberation Serif", serif' font-size="11.5" fill="#000" text-anchor="end">20</text>
<line x1="421.6" y1="177.82" x2="423.6" y2="177.82" stroke="#4a4a4a" stroke-width="0.9"/>
<line x1="421.6" y1="168.76" x2="425.20000000000005" y2="168.76" stroke="#4a4a4a" stroke-width="0.9"/>
<text x="417.4" y="172.71" font-family='"Liberation Serif", serif' font-size="11.5" fill="#000" text-anchor="end">40</text>
<line x1="421.6" y1="159.70" x2="423.6" y2="159.70" stroke="#4a4a4a" stroke-width="0.9"/>
<line x1="421.6" y1="150.65" x2="425.20000000000005" y2="150.65" stroke="#4a4a4a" stroke-width="0.9"/>
<text x="417.4" y="154.60" font-family='"Liberation Serif", serif' font-size="11.5" fill="#000" text-anchor="end">60</text>
<line x1="421.6" y1="141.59" x2="423.6" y2="141.59" stroke="#4a4a4a" stroke-width="0.9"/>
<line x1="421.6" y1="132.53" x2="425.20000000000005" y2="132.53" stroke="#4a4a4a" stroke-width="0.9"/>
<text x="417.4" y="136.48" font-family='"Liberation Serif", serif' font-size="11.5" fill="#000" text-anchor="end">80</text>
<line x1="421.6" y1="123.47" x2="423.6" y2="123.47" stroke="#4a4a4a" stroke-width="0.9"/>
<line x1="421.6" y1="114.41" x2="425.20000000000005" y2="114.41" stroke="#4a4a4a" stroke-width="0.9"/>
<text x="417.4" y="118.36" font-family='"Liberation Serif", serif' font-size="11.5" fill="#000" text-anchor="end">100</text>
<line x1="421.6" y1="105.35" x2="423.6" y2="105.35" stroke="#4a4a4a" stroke-width="0.9"/>
<line x1="421.6" y1="96.29" x2="425.20000000000005" y2="96.29" stroke="#4a4a4a" stroke-width="0.9"/>
<text x="417.4" y="100.24" font-family='"Liberation Serif", serif' font-size="11.5" fill="#000" text-anchor="end">120</text>
<line x1="421.6" y1="87.23" x2="423.6" y2="87.23" stroke="#4a4a4a" stroke-width="0.9"/>
<line x1="421.6" y1="78.17" x2="425.20000000000005" y2="78.17" stroke="#4a4a4a" stroke-width="0.9"/>
<text x="417.4" y="82.12" font-family='"Liberation Serif", serif' font-size="11.5" fill="#000" text-anchor="end">140</text>
<line x1="421.6" y1="69.11" x2="423.6" y2="69.11" stroke="#4a4a4a" stroke-width="0.9"/>
<line x1="421.6" y1="60.05" x2="425.20000000000005" y2="60.05" stroke="#4a4a4a" stroke-width="0.9"/>
<text x="417.4" y="64.00" font-family='"Liberation Serif", serif' font-size="11.5" fill="#000" text-anchor="end">160</text>
<line x1="421.6" y1="51.00" x2="423.6" y2="51.00" stroke="#4a4a4a" stroke-width="0.9"/>
<line x1="421.6" y1="41.94" x2="425.20000000000005" y2="41.94" stroke="#4a4a4a" stroke-width="0.9"/>
<text x="417.4" y="45.89" font-family='"Liberation Serif", serif' font-size="11.5" fill="#000" text-anchor="end">180</text>
<line x1="421.6" y1="32.88" x2="423.6" y2="32.88" stroke="#4a4a4a" stroke-width="0.9"/>
<line x1="421.6" y1="23.82" x2="425.20000000000005" y2="23.82" stroke="#4a4a4a" stroke-width="0.9"/>
<text x="417.4" y="27.77" font-family='"Liberation Serif", serif' font-size="11.5" fill="#000" text-anchor="end">200</text>
<line x1="421.6" y1="14.76" x2="423.6" y2="14.76" stroke="#4a4a4a" stroke-width="0.9"/>
<line x1="421.6" y1="5.70" x2="425.20000000000005" y2="5.70" stroke="#4a4a4a" stroke-width="0.9"/>
<text x="417.4" y="9.65" font-family='"Liberation Serif", serif' font-size="11.5" fill="#000" text-anchor="end">220</text>
<text transform="translate(395.3,105.7) rotate(-90)" font-family='"Liberation Serif", serif' font-size="14.0" fill="#000" text-anchor="middle">Eigenvalue buckling load (MPa)</text>
<rect x="601.4" y="12.2" width="27.2" height="13.1" fill="#ee7f31" stroke="#2b2b2b" stroke-width="0.8"/>
<rect x="601.4" y="27.3" width="27.2" height="13.1" fill="#2e6573" stroke="#2b2b2b" stroke-width="0.8"/>
<text x="662.6" y="23" font-family='"Liberation Serif", serif' font-size="11.5" fill="#000" text-anchor="end">25°<tspan dx="-1.3">C</tspan></text>
<text x="662.6" y="38" font-family='"Liberation Serif", serif' font-size="11.5" fill="#000" text-anchor="end">–32°<tspan dx="-1.3">C</tspan></text>
<text x="544.7" y="260.6" font-family='"Liberation Serif", serif' font-size="20.4" fill="#000" text-anchor="middle">(b)</text>
</svg>
</body></html>
